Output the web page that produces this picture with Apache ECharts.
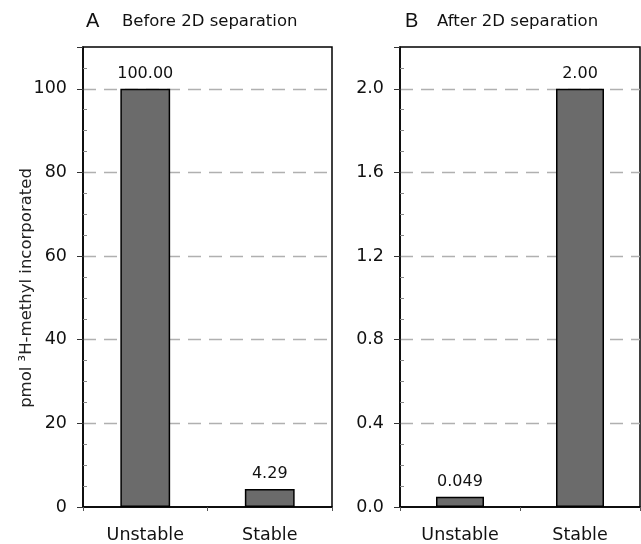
<!DOCTYPE html>
<html><head><meta charset="utf-8">
<script src="https://cdn.jsdelivr.net/npm/echarts@6/dist/echarts.min.js"></script>
<style>html,body{margin:0;padding:0;background:#fff}#c{width:641px;height:544px}</style>
</head><body><div id="c"></div>
<script>
const categories = ['Unstable', 'Stable'];
const beforeValues = [100.00, 4.29];
const beforeLabels = ['100.00', '4.29'];
const afterValues = [0.049, 2.00];
const afterLabels = ['0.049', '2.00'];
const panelLetters = ['A', 'B'];
const panelTitles = ['Before 2D separation', 'After 2D separation'];
const yAxisName = 'pmol \u00B3H-methyl incorporated';

const FONT = 'DejaVu Sans';
const chart = echarts.init(document.getElementById('c'));

function yAx(gi, max, interval, decimals, name) {
  return {
    gridIndex: gi, type: 'value', min: 0, max: max, interval: interval,
    name: name || '', nameLocation: 'middle', nameGap: 48, nameRotate: 90, nameMoveOverlap: false,
    nameTextStyle: {fontFamily: FONT, fontSize: 16.5, color: '#222', padding: [0, 22, 0, 0]},
    axisLine: {show: true, lineStyle: {color: '#000', width: 1.5}},
    axisTick: {show: true, inside: false, length: 6, lineStyle: {color: '#333', width: 1}},
    minorTick: {show: true, splitNumber: 4, length: -4, lineStyle: {color: '#888', width: 1}},
    axisLabel: {fontFamily: FONT, fontSize: 17.5, color: '#111', margin: 16,
      formatter: v => (decimals ? v.toFixed(decimals) : String(Math.round(v))),
      showMaxLabel: false},
    splitLine: {show: true, showMaxLine: false, showMinLine: false,
      lineStyle: {color: '#b0b0b0', type: [13, 8], width: 1.4}}
  };
}
function xAx(gi) {
  return {
    gridIndex: gi, type: 'category', data: categories, boundaryGap: true,
    axisLine: {show: true, lineStyle: {color: '#000', width: 1.5}},
    axisTick: {show: true, length: 4, lineStyle: {color: '#555'}},
    axisLabel: {fontFamily: FONT, fontSize: 17.5, color: '#111', margin: 19}
  };
}
function bars(i, values, labels) {
  return {
    type: 'bar', xAxisIndex: i, yAxisIndex: i, barWidth: '40%',
    data: values,
    itemStyle: {color: '#6b6b6b', borderColor: '#000', borderWidth: 1.5},
    label: {show: true, position: 'top', distance: 7, fontFamily: FONT, fontSize: 16, color: '#111',
      formatter: p => labels[p.dataIndex]},
    animation: false
  };
}

chart.setOption({
  animation: false,
  grid: [
    {left: 83, top: 47, width: 249, height: 460, show: true, borderColor: '#000', borderWidth: 1.5, backgroundColor: 'transparent'},
    {left: 400, top: 47, width: 240, height: 460, show: true, borderColor: '#000', borderWidth: 1.5, backgroundColor: 'transparent'}
  ],
  xAxis: [xAx(0), xAx(1)],
  yAxis: [yAx(0, 110, 20, 0, yAxisName), yAx(1, 2.2, 0.4, 1)],
  series: [bars(0, beforeValues, beforeLabels), bars(1, afterValues, afterLabels)],
  graphic: [
    {type: 'text', left: 86, top: 11, style: {text: panelLetters[0], font: '20px "Liberation Sans"', fill: '#111'}},
    {type: 'text', left: 122, top: 13, style: {text: panelTitles[0], font: '16.5px "DejaVu Sans"', fill: '#111'}},
    {type: 'text', left: 405, top: 11, style: {text: panelLetters[1], font: '20px "Liberation Sans"', fill: '#111'}},
    {type: 'text', left: 437, top: 13, style: {text: panelTitles[1], font: '16.5px "DejaVu Sans"', fill: '#111'}}
  ]
});
</script></body></html>
